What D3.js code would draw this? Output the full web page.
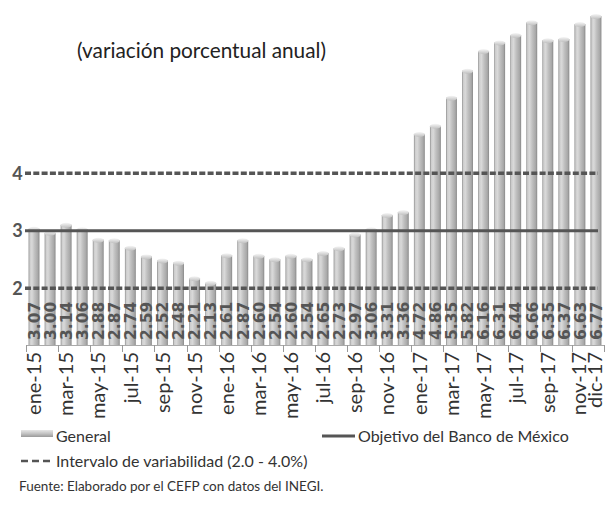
<!DOCTYPE html>
<html><head><meta charset="utf-8">
<script src="https://cdn.jsdelivr.net/npm/d3@7"></script>
<style>
body{margin:0;background:#fff;}
svg{display:block;}
</style></head>
<body>
<script>
const months = ["ene-15","feb-15","mar-15","abr-15","may-15","jun-15","jul-15","ago-15","sep-15","oct-15","nov-15","dic-15",
"ene-16","feb-16","mar-16","abr-16","may-16","jun-16","jul-16","ago-16","sep-16","oct-16","nov-16","dic-16",
"ene-17","feb-17","mar-17","abr-17","may-17","jun-17","jul-17","ago-17","sep-17","oct-17","nov-17","dic-17"];
const general = [3.07,3.00,3.14,3.06,2.88,2.87,2.74,2.59,2.52,2.48,2.21,2.13,
2.61,2.87,2.60,2.54,2.60,2.54,2.65,2.73,2.97,3.06,3.31,3.36,
4.72,4.86,5.35,5.82,6.16,6.31,6.44,6.66,6.35,6.37,6.63,6.77];
const objetivo = 3;
const intervalo = [2, 4];
const yTicks = [2, 3, 4];
const titleText = "(variación porcentual anual)";
const legendGeneral = "General";
const legendObjetivo = "Objetivo del Banco de México";
const legendIntervalo = "Intervalo de variabilidad (2.0 - 4.0%)";
const sourceText = "Fuente: Elaborado por el CEFP con datos del INEGI.";

const W = 607, H = 508;
const svg = d3.select("body").append("svg").attr("width", W).attr("height", H);

const defs = svg.append("defs");
const g1 = defs.append("linearGradient").attr("id","barg").attr("x1","0").attr("x2","1").attr("y1","0").attr("y2","0");
[["0%","#8c8c8c"],["12%","#cdcdcd"],["30%","#d9d9d9"],["55%","#c0c0c0"],["85%","#a8a8a8"],["100%","#888888"]]
  .forEach(s=>g1.append("stop").attr("offset",s[0]).attr("stop-color",s[1]));
const g2 = defs.append("linearGradient").attr("id","capg").attr("x1","0").attr("x2","0").attr("y1","0").attr("y2","1");
[["0%","#f6f6f6"],["100%","#c0c0c0"]].forEach(s=>g2.append("stop").attr("offset",s[0]).attr("stop-color",s[1]));
const g3 = defs.append("linearGradient").attr("id","legg").attr("x1","0").attr("x2","0").attr("y1","0").attr("y2","1");
[["0%","#e6e6e6"],["50%","#c4c4c4"],["100%","#9a9a9a"]].forEach(s=>g3.append("stop").attr("offset",s[0]).attr("stop-color",s[1]));

const x = d3.scaleBand().domain(months).range([26, 604]).paddingInner(0.32).paddingOuter(0.16);
const y = d3.scaleLinear().domain([1, 7]).range([345.8, 0.8]);
const bw = x.bandwidth();

// title
svg.append("text").attr("x", 77).attr("y", 58).attr("font-family","Lato").attr("font-size", 21)
  .attr("fill","#222").attr("textLength",249).attr("lengthAdjust","spacingAndGlyphs").text(titleText);

// bars
const bars = svg.append("g");
bars.selectAll("rect").data(general).join("rect")
  .attr("x",(d,i)=>x(months[i])).attr("y",d=>y(d)+2)
  .attr("width",bw).attr("height",d=>y(1)-y(d)-2)
  .attr("fill","url(#barg)");
bars.selectAll("ellipse").data(general).join("ellipse")
  .attr("cx",(d,i)=>x(months[i])+bw/2).attr("cy",d=>y(d)+2.5)
  .attr("rx",bw/2).attr("ry",2.5)
  .attr("fill","url(#capg)");

// value labels
svg.append("g").selectAll("text").data(general).join("text")
  .attr("transform",(d,i)=>`translate(${x(months[i])+bw/2},340) rotate(-90)`)
  .attr("dy","0.37em")
  .attr("font-family","DejaVu Sans").attr("font-weight","bold").attr("font-size",15.5)
  .attr("fill","#555").text(d=>d.toFixed(2));

// reference lines
const xl0 = 25, xl1 = 598;
svg.append("g").selectAll("line").data(intervalo).join("line")
  .attr("x1",xl0).attr("x2",xl1).attr("y1",d=>y(d)).attr("y2",d=>y(d))
  .attr("stroke","#555").attr("stroke-width",3.5).attr("stroke-dasharray","6,2.3");
svg.append("line").attr("x1",xl0).attr("x2",xl1).attr("y1",y(objetivo)).attr("y2",y(objetivo))
  .attr("stroke","#555").attr("stroke-width",3);

// y labels
svg.append("g").selectAll("text").data(yTicks).join("text")
  .attr("x",17.5).attr("y",d=>y(d)).attr("dy","0.36em").attr("text-anchor","middle")
  .attr("font-family","Lato").attr("font-weight","bold").attr("font-size",18)
  .attr("fill","#555").text(d=>d);

// x axis
const ax = svg.append("g");
ax.append("line").attr("x1",26).attr("x2",604).attr("y1",345.5).attr("y2",345.5).attr("stroke","#aaa");
const tickIdx = months.map((m,i)=>i).filter(i=>i%2===0);
ax.selectAll("line.t").data(tickIdx.concat([36])).join("line").attr("class","t")
  .attr("x1",i=>Math.round(26 + i*x.step())+0.5).attr("x2",i=>Math.round(26 + i*x.step())+0.5)
  .attr("y1",345).attr("y2",352).attr("stroke","#999");
const labIdx = tickIdx.concat([35]);
ax.selectAll("text").data(labIdx).join("text")
  .attr("transform",i=>`translate(${x(months[i])+bw/2 + (i===35?-1:(i===34?-1:0))},352) rotate(-90)`)
  .attr("dy","0.36em").attr("text-anchor","end")
  .attr("font-family","Lato").attr("font-size",20).attr("fill","#333")
  .text(i=>months[i]);

// legend
const lg = svg.append("g").attr("font-family","Lato").attr("font-size",16).attr("fill","#333");
lg.append("rect").attr("x",21).attr("y",430).attr("width",32).attr("height",7).attr("fill","url(#legg)");
lg.append("text").attr("x",56).attr("y",442).text(legendGeneral);
lg.append("line").attr("x1",322).attr("x2",355).attr("y1",436).attr("y2",436).attr("stroke","#555").attr("stroke-width",3);
lg.append("text").attr("x",358).attr("y",442).text(legendObjetivo);
lg.append("line").attr("x1",21).attr("x2",53).attr("y1",461).attr("y2",461).attr("stroke","#555").attr("stroke-width",2.5).attr("stroke-dasharray","7,4");
lg.append("text").attr("x",56).attr("y",467).text(legendIntervalo);
svg.append("text").attr("x",19).attr("y",491).attr("font-family","Lato").attr("font-size",13.5).attr("fill","#333").text(sourceText);
</script>
</body></html>
